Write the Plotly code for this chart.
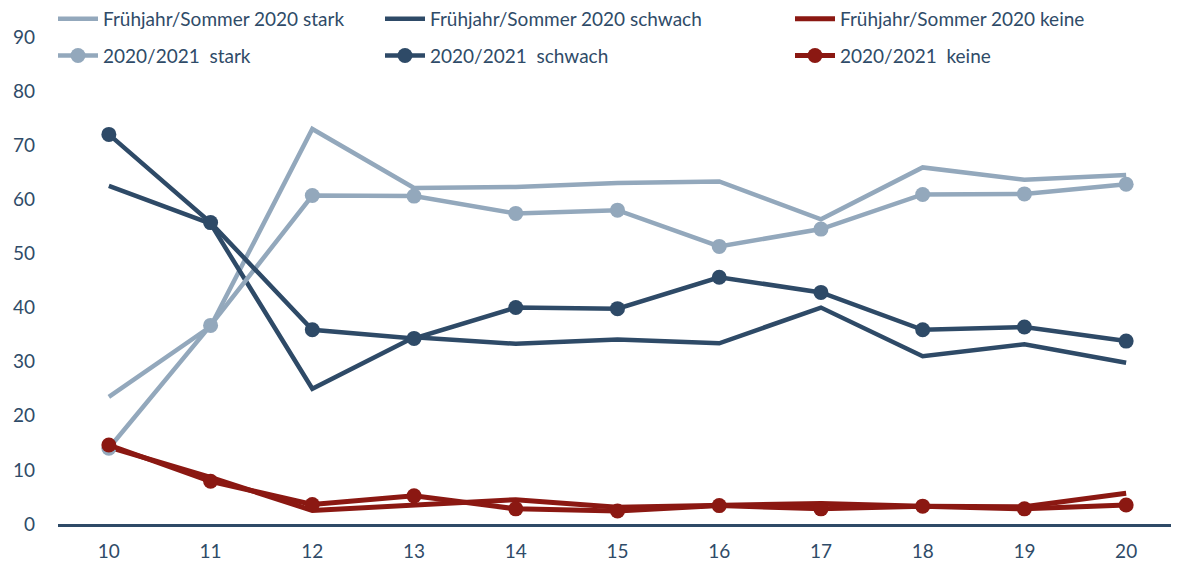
import plotly.graph_objects as go

x_vals = [10, 11, 12, 13, 14, 15, 16, 17, 18, 19, 20]

fs_stark = [23.5, 36.5, 73.0, 62.1, 62.3, 63.0, 63.3, 56.3, 65.9, 63.6, 64.5]
fs_schwach = [62.5, 55.5, 25.0, 34.5, 33.3, 34.1, 33.4, 40.0, 31.0, 33.2, 29.8]
fs_keine = [14.2, 8.6, 2.5, 3.6, 4.5, 3.1, 3.4, 3.8, 3.3, 3.2, 5.7]

w_stark = [14.0, 36.7, 60.7, 60.6, 57.4, 58.0, 51.3, 54.5, 60.9, 61.0, 62.8]
w_schwach = [72.0, 55.7, 35.9, 34.3, 40.0, 39.8, 45.6, 42.8, 35.9, 36.4, 33.8]
w_keine = [14.6, 7.9, 3.6, 5.2, 2.8, 2.4, 3.4, 2.8, 3.3, 2.8, 3.5]

names_fs = ["Frühjahr/Sommer 2020 stark", "Frühjahr/Sommer 2020 schwach", "Frühjahr/Sommer 2020 keine"]
names_w = ["2020/2021  stark", "2020/2021  schwach", "2020/2021  keine"]

LIGHT = "#93A8BC"
DARK = "#2E4A67"
RED = "#8B1812"
TEXT = "#2F4B68"
FONT = "Lato"

colors = [LIGHT, DARK, RED]
legends = ["legend", "legend2", "legend3"]
fs_series = [fs_stark, fs_schwach, fs_keine]
w_series = [w_stark, w_schwach, w_keine]

fig = go.Figure()
for i in range(3):
    fig.add_trace(go.Scatter(
        x=x_vals, y=fs_series[i], name=names_fs[i], mode="lines",
        line=dict(color=colors[i], width=4.5 if i < 2 else 5),
        legend=legends[i], legendgroup=f"fs{i}",
    ))
for i in range(3):
    fig.add_trace(go.Scatter(
        x=x_vals, y=w_series[i], name=names_w[i], mode="lines+markers",
        line=dict(color=colors[i], width=4.5 if i < 2 else 5),
        marker=dict(color=colors[i], size=15),
        legend=legends[i], legendgroup=f"w{i}",
    ))

H = 564
PLOT_H = 487
leg_common = dict(
    orientation="v", xref="container", yref="paper",
    xanchor="left", yanchor="top", y=1.0 + 37 / PLOT_H,
    font=dict(family=FONT, size=19, color=TEXT),
    bgcolor="rgba(0,0,0,0)", itemwidth=40, tracegroupgap=9,
    traceorder="grouped",
)

fig.update_layout(
    width=1179, height=H,
    margin=dict(l=50, r=10, t=29, b=48, autoexpand=False),
    paper_bgcolor="white", plot_bgcolor="white",
    font=dict(family=FONT, size=19, color=TEXT),
    showlegend=True,
    legend=dict(leg_common, x=45 / 1179),
    legend2=dict(leg_common, x=372 / 1179),
    legend3=dict(leg_common, x=782 / 1179),
    xaxis=dict(
        range=[9.5, 20.5], tickvals=x_vals, ticktext=[str(v) for v in x_vals],
        showgrid=False, zeroline=False, showline=True, linecolor=DARK, linewidth=3,
        ticks="", ticklabelstandoff=8, automargin=False,
        tickfont=dict(family=FONT, size=19, color=TEXT),
    ),
    yaxis=dict(
        range=[0, 90], tickvals=list(range(0, 91, 10)),
        showgrid=False, zeroline=False, showline=False, ticks="",
        ticklabelstandoff=22, automargin=False,
        tickfont=dict(family=FONT, size=19, color=TEXT),
    ),
)

fig.write_html("out.html")
